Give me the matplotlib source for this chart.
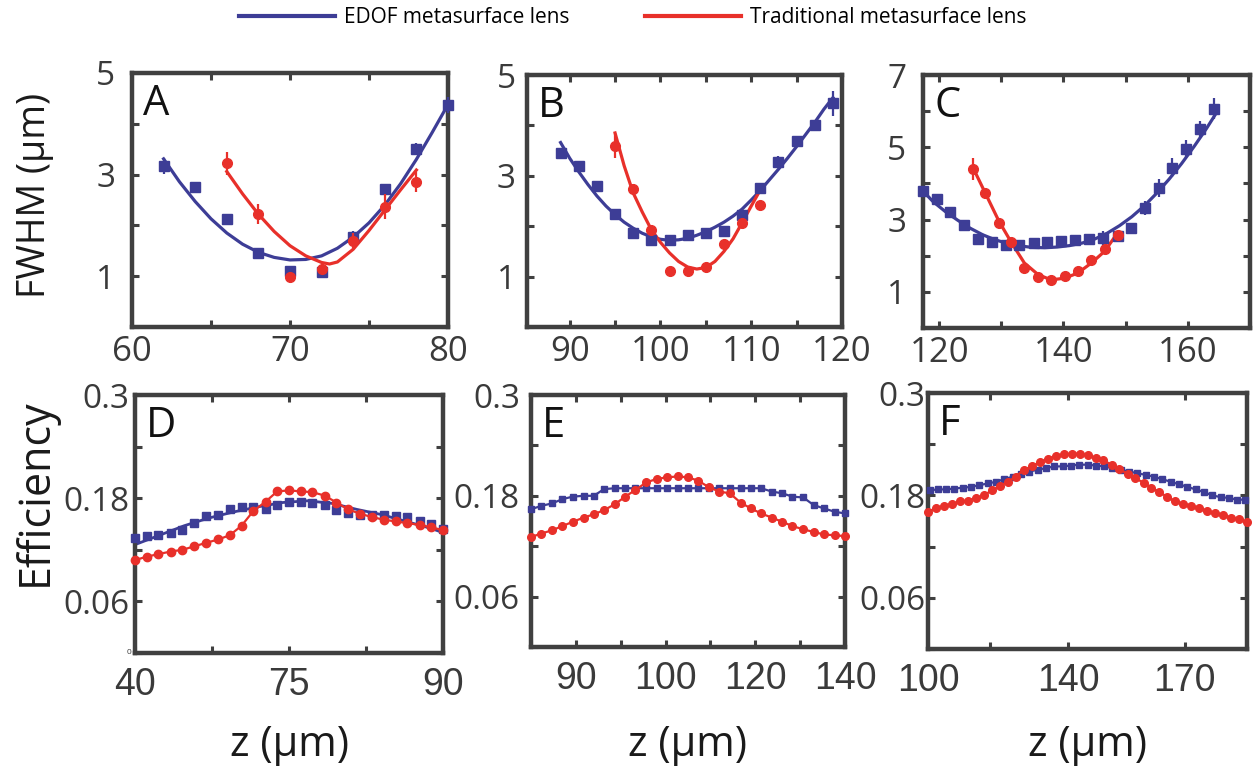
import matplotlib
matplotlib.use("Agg")
import matplotlib.pyplot as plt
from matplotlib.lines import Line2D

BLUE = "#3d3d96"
RED = "#e8302a"
SPINE = "#404040"
TXT = "#3a3a3a"

# ---------------------------------------------------------------------------
# Data
# ---------------------------------------------------------------------------

# A  (FWHM vs z)
a_z_edof = [62, 64, 66, 68, 70, 72, 74, 76, 78, 80]
a_fwhm_edof = [3.17, 2.75, 2.12, 1.46, 1.10, 1.08, 1.78, 2.71, 3.50, 4.37]
a_err_edof = [0.15, 0.07, 0.07, 0.05, 0.07, 0.05, 0.10, 0.10, 0.12, 0.15]
a_z_trad = [66, 68, 70, 72, 74, 76, 78]
a_fwhm_trad = [3.22, 2.22, 0.99, 1.14, 1.70, 2.37, 2.86]
a_err_trad = [0.22, 0.20, 0.10, 0.08, 0.15, 0.25, 0.20]
a_fitz_edof = [62, 63, 64, 65, 66, 67, 68, 69, 70, 71, 72, 73, 74, 75, 76, 77, 78, 79, 80]
a_fit_edof = [3.31, 2.86, 2.47, 2.13, 1.85, 1.63, 1.47, 1.37, 1.32, 1.33, 1.40, 1.55,
              1.77, 2.05, 2.40, 2.82, 3.30, 3.83, 4.38]
a_fitz_trad = [66, 67, 68, 69, 70, 71, 72, 72.5, 73, 74, 75, 76, 77, 78]
a_fit_trad = [3.06, 2.62, 2.22, 1.88, 1.60, 1.40, 1.27, 1.24, 1.28, 1.53, 1.90, 2.30,
              2.70, 3.09]

# B
b_z_edof = [89, 91, 93, 95, 97, 99, 101, 103, 105, 107, 109, 111, 113, 115, 117, 119]
b_fwhm_edof = [3.45, 3.19, 2.79, 2.24, 1.87, 1.72, 1.73, 1.82, 1.87, 1.90, 2.22, 2.75,
               3.27, 3.70, 4.00, 4.44]
b_err_edof = [0.08, 0.08, 0.10, 0.06, 0.06, 0.05, 0.05, 0.05, 0.06, 0.10, 0.10, 0.10,
              0.12, 0.08, 0.08, 0.25]
b_z_trad = [95, 97, 99, 101, 103, 105, 107, 109, 111]
b_fwhm_trad = [3.60, 2.73, 1.92, 1.11, 1.11, 1.20, 1.64, 2.06, 2.43]
b_err_trad = [0.25, 0.10, 0.10, 0.04, 0.04, 0.05, 0.05, 0.06, 0.06]
b_fitz_edof = [89, 90, 91, 92, 93, 94, 95, 96, 97, 98, 99, 100, 101, 102, 103, 104, 105,
               106, 107, 108, 109, 110, 111, 112, 113, 114, 115, 116, 117, 118, 119]
b_fit_edof = [3.66, 3.35, 3.08, 2.83, 2.60, 2.40, 2.23, 2.08, 1.96, 1.86, 1.79, 1.74, 1.72,
              1.73, 1.76, 1.82, 1.89, 1.98, 2.08, 2.20, 2.34, 2.52, 2.71, 2.92, 3.13, 3.35,
              3.58, 3.82, 4.06, 4.32, 4.55]
b_fitz_trad = [95, 96, 97, 98, 99, 100, 101, 102, 103, 104, 105, 106, 107, 108, 109, 110, 111]
b_fit_trad = [3.85, 3.20, 2.66, 2.28, 1.93, 1.68, 1.47, 1.30, 1.19, 1.15, 1.18, 1.30, 1.50,
              1.75, 2.07, 2.40, 2.72]

# C
c_z_edof = [117.4, 119.6, 121.8, 124.0, 126.2, 128.5, 130.8, 132.9, 135.2, 137.4, 139.6,
            141.9, 144.1, 146.3, 148.7, 150.8, 153.1, 155.4, 157.5, 159.7, 162.0, 164.2]
c_fwhm_edof = [3.79, 3.56, 3.20, 2.86, 2.46, 2.37, 2.31, 2.31, 2.35, 2.37, 2.40, 2.44,
               2.46, 2.49, 2.54, 2.77, 3.32, 3.88, 4.44, 4.94, 5.50, 6.07]
c_err_edof = [0.05, 0.05, 0.06, 0.06, 0.05, 0.05, 0.05, 0.05, 0.05, 0.05, 0.05, 0.05,
              0.05, 0.20, 0.08, 0.08, 0.20, 0.25, 0.25, 0.25, 0.22, 0.30]
c_z_trad = [125.4, 127.4, 129.6, 131.6, 133.7, 135.9, 138.0, 140.2, 142.3, 144.5, 146.6, 148.7]
c_fwhm_trad = [4.39, 3.74, 2.91, 2.37, 1.66, 1.41, 1.33, 1.43, 1.59, 1.87, 2.19, 2.58]
c_err_trad = [0.30, 0.12, 0.10, 0.05, 0.05, 0.05, 0.05, 0.05, 0.05, 0.05, 0.05, 0.05]
c_fitz_edof = [117.4, 119, 121, 123, 125, 127, 129, 131, 133, 135, 137, 139, 141, 143, 145,
               147, 149, 151, 153, 155, 157, 159, 161, 163, 164.4]
c_fit_edof = [3.79, 3.50, 3.22, 2.98, 2.76, 2.58, 2.44, 2.34, 2.27, 2.23, 2.22, 2.24, 2.28,
              2.35, 2.46, 2.62, 2.83, 3.08, 3.38, 3.73, 4.12, 4.55, 5.02, 5.52, 5.90]
c_fit_trad = [4.45, 3.74, 2.96, 2.37, 1.80, 1.48, 1.33, 1.38, 1.52, 1.80, 2.12, 2.63]

# D  (efficiency vs z)
d_z = [40.0, 41.9, 43.8, 45.8, 47.7, 49.6, 51.5, 53.5, 55.4, 57.3, 59.2, 61.2, 63.1, 65.0,
       66.9, 68.8, 70.8, 72.7, 74.6, 76.5, 78.5, 80.4, 82.3, 84.2, 86.2, 88.1, 90.0]
d_eff_trad = [0.108, 0.112, 0.115, 0.118, 0.120, 0.124, 0.128, 0.132, 0.137, 0.148, 0.165,
              0.176, 0.188, 0.189, 0.188, 0.187, 0.183, 0.175, 0.167, 0.162, 0.158, 0.155,
              0.153, 0.151, 0.149, 0.146, 0.143]
d_eff_edof = [0.134, 0.136, 0.137, 0.139, 0.143, 0.151, 0.159, 0.161, 0.167, 0.170, 0.170,
              0.167, 0.172, 0.176, 0.176, 0.175, 0.172, 0.166, 0.163, 0.161, 0.161, 0.160,
              0.159, 0.158, 0.153, 0.150, 0.144]
d_fitz_edof = [40, 44, 48, 52, 56, 60, 64, 68, 72, 76, 80, 84, 88, 90]
d_fit_edof = [0.126, 0.137, 0.148, 0.157, 0.164, 0.170, 0.175, 0.177, 0.174, 0.167, 0.161,
              0.153, 0.145, 0.140]

# E
e_z = [85.0, 86.8, 88.7, 90.5, 92.3, 94.2, 96.0, 97.8, 99.7, 101.5, 103.3, 105.2, 107.0,
       108.8, 110.7, 112.5, 114.3, 116.2, 118.0, 119.8, 121.7, 123.5, 125.3, 127.2, 129.0,
       130.8, 132.7, 134.5, 136.3, 138.2, 140.0]
e_eff_trad = [0.131, 0.135, 0.139, 0.144, 0.149, 0.154, 0.158, 0.163, 0.170, 0.179, 0.187,
              0.196, 0.200, 0.202, 0.203, 0.202, 0.198, 0.190, 0.185, 0.183, 0.172, 0.165,
              0.159, 0.154, 0.149, 0.144, 0.140, 0.137, 0.134, 0.133, 0.132]
e_eff_edof = [0.164, 0.168, 0.171, 0.176, 0.179, 0.180, 0.180, 0.188, 0.189, 0.189, 0.189,
              0.189, 0.189, 0.189, 0.189, 0.189, 0.189, 0.189, 0.189, 0.189, 0.189, 0.189,
              0.189, 0.185, 0.183, 0.179, 0.178, 0.169, 0.165, 0.161, 0.159]

# F
f_z_trad = [104.0, 106.1, 108.1, 110.2, 112.2, 114.3, 116.3, 118.4, 120.4, 122.5, 124.5,
            126.6, 128.6, 130.7, 132.7, 134.8, 136.8, 138.9, 140.9, 143.0, 145.0, 147.1,
            149.1, 151.2, 153.2, 155.3, 157.3, 159.4, 161.4, 163.5, 165.5, 167.6, 169.6,
            171.7, 173.7, 175.8, 177.8, 179.9, 181.9, 184.0, 186.0]
f_eff_trad = [0.161, 0.165, 0.168, 0.170, 0.173, 0.174, 0.177, 0.180, 0.186, 0.191, 0.196,
              0.202, 0.210, 0.214, 0.219, 0.223, 0.226, 0.228, 0.229, 0.229, 0.227, 0.224,
              0.221, 0.216, 0.211, 0.205, 0.200, 0.195, 0.189, 0.184, 0.178, 0.173, 0.170,
              0.168, 0.165, 0.162, 0.159, 0.157, 0.154, 0.152, 0.149]
f_z_edof = [104.4, 106.5, 108.7, 110.8, 112.9, 115.1, 117.2, 119.4, 121.5, 123.6, 125.8,
            127.9, 130.0, 132.2, 134.3, 136.5, 138.6, 140.7, 142.9, 145.0, 147.1, 149.3,
            151.4, 153.6, 155.7, 157.8, 160.0, 162.1, 164.2, 166.4, 168.5, 170.7, 172.8,
            174.9, 177.1, 179.2, 181.3, 183.5, 185.6]
f_eff_edof = [0.186, 0.187, 0.187, 0.188, 0.189, 0.190, 0.192, 0.194, 0.196, 0.199, 0.202,
              0.205, 0.208, 0.210, 0.212, 0.214, 0.214, 0.215, 0.216, 0.216, 0.215, 0.214,
              0.212, 0.210, 0.208, 0.206, 0.204, 0.202, 0.199, 0.196, 0.193, 0.190, 0.187,
              0.184, 0.180, 0.178, 0.177, 0.175, 0.175]

# axis ticks / labels
a_xticks = [60, 65, 70, 75, 80]
a_xlabels = ["60", "", "70", "", "80"]
b_xticks = [90, 95, 100, 105, 110, 115, 120]
b_xlabels = ["90", "", "100", "", "110", "", "120"]
c_xticks = [120, 130, 140, 150, 160, 170]
c_xlabels = ["120", "", "140", "", "160", ""]
fwhm_ticks_5 = [0, 1, 2, 3, 4, 5]
fwhm_labels_5 = ["", "1", "", "3", "", "5"]
fwhm_ticks_7 = [0, 1, 2, 3, 4, 5, 6, 7]
fwhm_labels_7 = ["", "1", "", "3", "", "5", "", "7"]
eff_ticks = [0, 0.06, 0.12, 0.18, 0.24, 0.3]
eff_labels = ["", "0.06", "", "0.18", "", "0.3"]
d_xticks = [40, 52.5, 65, 77.5, 90]
d_xlabels = ["40", "", "75", "", "90"]
e_xticks = [85, 92.86, 100.71, 108.57, 116.43, 124.29, 132.14, 140]
e_xlabels = ["", "90", "", "100", "", "120", "", "140"]
f_xticks = [104, 120, 140, 170]
f_xlabels = ["100", "", "140", "170"]

# ---------------------------------------------------------------------------
# Figure
# ---------------------------------------------------------------------------
plt.rcParams["font.family"] = ["Open Sans", "DejaVu Sans"]

fig = plt.figure(figsize=(12.58, 7.73), dpi=100)

W, H = 1258.0, 773.0


def px_axes(x0, y0, x1, y1):
    return fig.add_axes([x0 / W, 1 - y1 / H, (x1 - x0) / W, (y1 - y0) / H])


def style(ax, xlim, ylim, xt, xl, yt, yl, letter, xfs, yfs, xfont, xpad, ypad):
    ax.set_xlim(*xlim)
    ax.set_ylim(*ylim)
    ax.set_xticks(xt)
    ax.set_xticklabels(xl, fontsize=xfs, family=xfont, color=TXT)
    ax.set_yticks(yt)
    ax.set_yticklabels(yl, fontsize=yfs, color=TXT)
    ax.tick_params(direction="in", length=5, width=2.2, color=SPINE,
                   top=True, right=True)
    ax.tick_params(axis="x", pad=xpad)
    ax.tick_params(axis="y", pad=ypad)
    for s in ax.spines.values():
        s.set_linewidth(3.2)
        s.set_color(SPINE)
    ax.text(0.035, 0.96, letter, transform=ax.transAxes, ha="left", va="top",
            fontsize=30, color="#111111")


def fwhm_panel(ax, ze, ye, ee, zt, yt, et, fze, fe, fzt, ft):
    ax.plot(fze, fe, color=BLUE, lw=2.3, zorder=2)
    ax.plot(fzt, ft, color=RED, lw=2.3, zorder=2)
    ax.errorbar(ze, ye, yerr=ee, fmt="s", color=BLUE, ms=6.5, elinewidth=1.6,
                capsize=0, zorder=3, clip_on=False)
    ax.errorbar(zt, yt, yerr=et, fmt="o", color=RED, ms=7, elinewidth=1.6,
                capsize=0, zorder=4, clip_on=False)


# top row
ax_a = px_axes(132, 73, 448, 327)
fwhm_panel(ax_a, a_z_edof, a_fwhm_edof, a_err_edof, a_z_trad, a_fwhm_trad, a_err_trad,
           a_fitz_edof, a_fit_edof, a_fitz_trad, a_fit_trad)
style(ax_a, (60, 80), (0, 5), a_xticks, a_xlabels, fwhm_ticks_5, fwhm_labels_5, "A",
      25, 24, "Open Sans", 6, 12)

ax_b = px_axes(527, 75, 842, 327)
fwhm_panel(ax_b, b_z_edof, b_fwhm_edof, b_err_edof, b_z_trad, b_fwhm_trad, b_err_trad,
           b_fitz_edof, b_fit_edof, b_fitz_trad, b_fit_trad)
style(ax_b, (85.3, 120), (0, 5), b_xticks, b_xlabels, fwhm_ticks_5, fwhm_labels_5, "B",
      25, 24, "Open Sans", 6, 8)

ax_c = px_axes(923, 75, 1250, 328)
fwhm_panel(ax_c, c_z_edof, c_fwhm_edof, c_err_edof, c_z_trad, c_fwhm_trad, c_err_trad,
           c_fitz_edof, c_fit_edof, c_z_trad, c_fit_trad)
style(ax_c, (117.4, 170), (0, 7), c_xticks, c_xlabels, fwhm_ticks_7, fwhm_labels_7, "C",
      25, 24, "Open Sans", 6, 12)

# bottom row
ax_d = px_axes(135, 395, 443, 653)
ax_d.plot(d_fitz_edof, d_fit_edof, color=BLUE, lw=2, zorder=2)
ax_d.plot(d_z, d_eff_edof, "s", color=BLUE, ms=5.5, zorder=3, clip_on=False)
ax_d.plot(d_z, d_eff_trad, "-o", color=RED, ms=6, lw=1.6, zorder=4, clip_on=False)
style(ax_d, (40, 90), (0, 0.3), d_xticks, d_xlabels, eff_ticks, eff_labels, "D",
      27, 24, "Liberation Sans", 10, 4)
ax_d.text(-0.012, 0.0, "0", transform=ax_d.transAxes, ha="right", va="center",
          fontsize=6, color=TXT)

ax_e = px_axes(531, 395, 845, 647)
ax_e.plot(e_z, e_eff_edof, "-s", color=BLUE, ms=5, lw=1.6, zorder=3, clip_on=False)
ax_e.plot(e_z, e_eff_trad, "-o", color=RED, ms=5.5, lw=1.6, zorder=4, clip_on=False)
style(ax_e, (85, 140), (0, 0.3), e_xticks, e_xlabels, eff_ticks, eff_labels, "E",
      27, 24, "Liberation Sans", 10, 8)

ax_f = px_axes(928, 393, 1247, 649)
ax_f.plot(f_z_edof, f_eff_edof, "-s", color=BLUE, ms=5, lw=1.6, zorder=3, clip_on=False)
ax_f.plot(f_z_trad, f_eff_trad, "-o", color=RED, ms=5.5, lw=1.6, zorder=4, clip_on=False)
style(ax_f, (104, 186), (0, 0.3), f_xticks, f_xlabels, eff_ticks, eff_labels, "F",
      27, 24, "Liberation Sans", 10, 2)

# axis titles
fig.text(35 / W, 1 - 195 / H, "FWHM (\u03bcm)", rotation=90, ha="center", va="center",
         fontsize=27, color="#1a1a1a")
fig.text(35 / W, 1 - 492 / H, "Efficiency", rotation=90, ha="center", va="center",
         fontsize=31, color="#1a1a1a")
for xc in (289, 688, 1088):
    fig.text(xc / W, 1 - 745 / H, "z (\u03bcm)", ha="center", va="center",
             fontsize=30, color="#1a1a1a")

# legend
handles = [Line2D([], [], color=BLUE, lw=3), Line2D([], [], color=RED, lw=3)]
fig.legend(handles, ["EDOF metasurface lens", "Traditional metasurface lens"],
           loc="upper center", bbox_to_anchor=(0.503, 1.015), ncol=2, frameon=False,
           handlelength=4.6, columnspacing=3.6, handletextpad=0.45,
           prop={"family": "Open Sans", "size": 15})

fig.savefig("out.png", dpi=100)
